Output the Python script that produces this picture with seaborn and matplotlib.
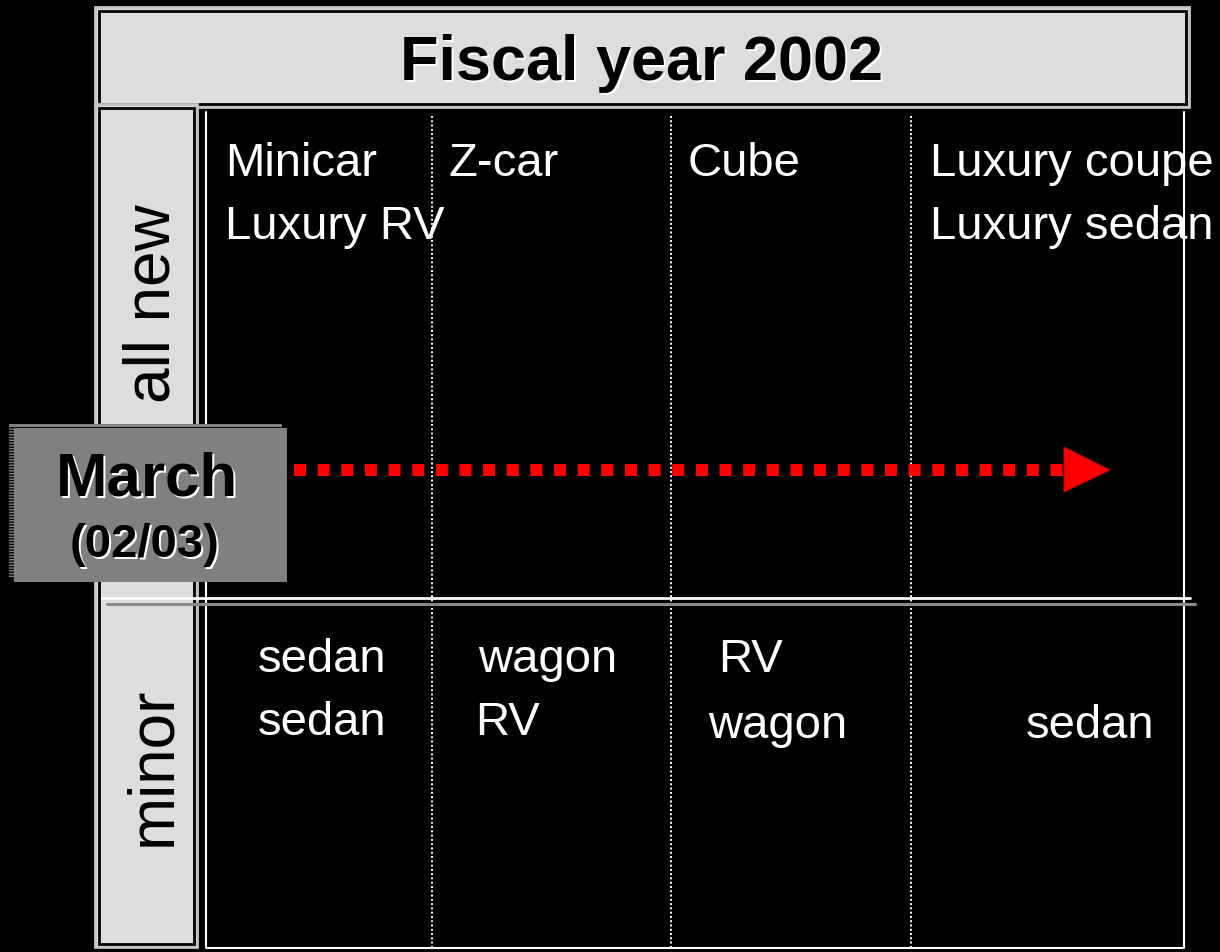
import matplotlib
matplotlib.use("Agg")
import matplotlib.pyplot as plt
from matplotlib.patches import Rectangle, Polygon
import seaborn as sns

# data: labels of the diagram
title = "Fiscal year 2002"
row_labels = ["all new", "minor"]
march_label = ["March", "(02/03)"]
new_models = [["Minicar", "Luxury RV"], ["Z-car"], ["Cube"], ["Luxury coupe", "Luxury sedan"]]
minor_models = [["sedan", "sedan"], ["wagon", "RV"], ["RV", "wagon"], ["", "sedan"]]

# layout (pixels, y down)
W, H = 1220, 952
new_x = [225, 449, 688, 930]
new_base = [176, 239]
minor_x = [[258, 258], [478, 475], [718, 708], [0, 1026]]
minor_base = [[672, 735], [672, 735], [672, 738], [672, 738]]
divider_x = [432, 671, 911]
row_label_y = [304, 766]

LIGHT = "#dddddd"
EDGE = "#c4c4c4"

sns.set_theme(style="white")
plt.rcParams["font.family"] = ["Liberation Sans", "DejaVu Sans"]

fig = plt.figure(figsize=(W / 100, H / 100), dpi=100, facecolor="black")
ax = fig.add_axes([0, 0, 1, 1])
ax.set_facecolor("black")
ax.set_xlim(0, W)
ax.set_ylim(H, 0)
ax.axis("off")

# title box
ax.add_patch(Rectangle((95, 7), 1094, 100, fc=LIGHT, ec=EDGE, lw=2, zorder=2))
ax.add_patch(Rectangle((98.5, 10.5), 1087, 93, fc="none", ec="black", lw=2, zorder=2))
ax.text(642 + 2, 80 + 2, title, color="white", fontsize=45.4, fontweight="bold",
        ha="center", va="baseline", zorder=3)
ax.text(642, 80, title, color="black", fontsize=45.4, fontweight="bold",
        ha="center", va="baseline", zorder=4)

# left row-label column
ax.add_patch(Rectangle((95, 104), 102, 843, fc=LIGHT, ec=EDGE, lw=2, zorder=2))
ax.add_patch(Rectangle((98.5, 107.5), 95, 836, fc="none", ec="black", lw=2, zorder=2))
for lab, yc in zip(row_labels, row_label_y):
    ax.text(170, yc, lab, color="black", fontsize=46, rotation=90,
            rotation_mode="anchor", ha="center", va="baseline", zorder=3)

# main frame (left, right, bottom)
ax.plot([206, 206, 1184, 1184], [112, 948, 948, 112], color="white", lw=1.5, zorder=2)

# dotted column dividers
for x in divider_x:
    sns.lineplot(x=[x, x], y=[116, 947], estimator=None, sort=False, ax=ax,
                 color="white", lw=1.4, linestyle=(0, (1, 1.2)), zorder=2)

# horizontal split between rows
ax.plot([102, 1190], [597.5, 597.5], color="white", lw=2, zorder=3)
ax.plot([107, 1195], [603.5, 603.5], color="#8a8a8a", lw=2.2, zorder=3)

# model names
for col, names in enumerate(new_models):
    for row, name in enumerate(names):
        ax.text(new_x[col], new_base[row], name, color="white", fontsize=34,
                ha="left", va="baseline", zorder=3)
for col, names in enumerate(minor_models):
    for row, name in enumerate(names):
        if name:
            ax.text(minor_x[col][row], minor_base[col][row], name, color="white",
                    fontsize=34, ha="left", va="baseline", zorder=3)

# March marker box
ax.add_patch(Rectangle((9, 424), 273, 153, fc="black", ec="#808080", lw=0,
                       hatch="------", zorder=5))
ax.add_patch(Rectangle((9, 424), 273, 2, fc="#808080", lw=0, zorder=5))
ax.add_patch(Rectangle((14, 428), 273, 154, fc="#808080", lw=0, zorder=6))
ax.text(147 + 2, 495 + 2, march_label[0], color="white", fontsize=44.6,
        fontweight="bold", ha="center", va="baseline", zorder=7)
ax.text(147, 495, march_label[0], color="black", fontsize=44.6,
        fontweight="bold", ha="center", va="baseline", zorder=8)
ax.text(145 + 2, 557 + 2, march_label[1], color="white", fontsize=34,
        fontweight="bold", ha="center", va="baseline", zorder=7)
ax.text(145, 557, march_label[1], color="black", fontsize=34,
        fontweight="bold", ha="center", va="baseline", zorder=8)

# red dotted arrow
sns.lineplot(x=[294, 1064], y=[470, 470], estimator=None, ax=ax, color="#ff0000",
             lw=8.64, linestyle=(0, (1, 0.97)), dash_capstyle="butt", zorder=9)
ax.add_patch(Polygon([(1064, 447), (1110, 470), (1064, 492)], closed=True,
                     fc="#ff0000", ec="#c00000", lw=0.8, zorder=9))

fig.savefig("out.png", dpi=100, facecolor="black")
